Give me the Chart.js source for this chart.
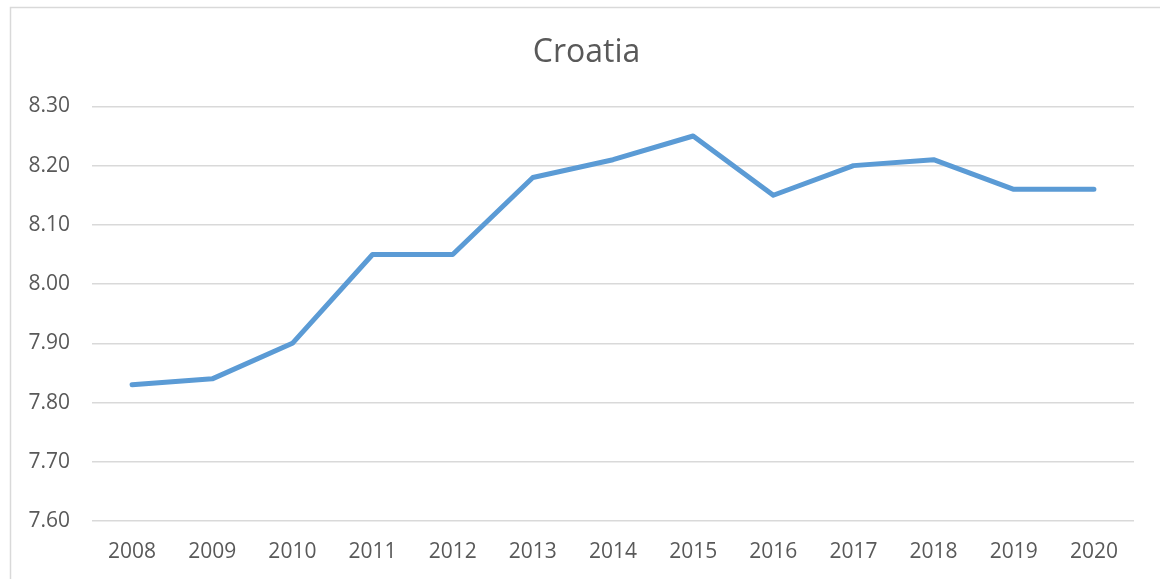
<!DOCTYPE html>
<html>
<head>
<meta charset="utf-8">
<script src="https://cdn.jsdelivr.net/npm/chart.js@4/dist/chart.umd.min.js"></script>
<style>
  html, body { margin: 0; padding: 0; background: #fff; }
  #wrap { position: relative; width: 1160px; height: 579px; }
</style>
</head>
<body>
<div id="wrap"><canvas id="c" width="1160" height="579"></canvas></div>
<script>
const years = ['2008','2009','2010','2011','2012','2013','2014','2015','2016','2017','2018','2019','2020'];
const croatia = [7.83, 7.84, 7.90, 8.05, 8.05, 8.18, 8.21, 8.25, 8.15, 8.20, 8.21, 8.16, 8.16];
const yMin = 7.60, yMax = 8.30, yStep = 0.10;
const chartTitle = 'Croatia';

const borderPlugin = {
  id: 'outerBorder',
  beforeDraw(chart) {
    const ctx = chart.ctx;
    ctx.save();
    ctx.fillStyle = '#ffffff';
    ctx.fillRect(0, 0, chart.width, chart.height);
    ctx.strokeStyle = '#d9d9d9';
    ctx.lineWidth = 1.5;
    ctx.strokeRect(10.5, 7.5, 1300, 700);
    ctx.restore();
  },
  afterDraw(chart) {
    // title centred on the outer chart frame (frame spans x=10..~1163)
    const tb = chart.titleBlock;
    const ctx = chart.ctx;
    const tOpts = chart.options.plugins.title;
    const y = tb.top + tOpts.padding.top + (tOpts.font.size * 1.2) / 2;
    ctx.save();
    ctx.fillStyle = '#595959';
    ctx.font = tOpts.font.size + 'px "Open Sans"';
    ctx.textAlign = 'center';
    ctx.textBaseline = 'middle';
    ctx.fillText(chartTitle, 586.5, y);
    ctx.restore();
  }
};

new Chart(document.getElementById('c'), {
  type: 'line',
  data: {
    labels: years,
    datasets: [{
      label: chartTitle,
      data: croatia,
      borderColor: '#5b9bd5',
      backgroundColor: '#5b9bd5',
      borderWidth: 5,
      pointRadius: 0,
      tension: 0,
      borderCapStyle: 'round',
      borderJoinStyle: 'round'
    }]
  },
  options: {
    responsive: false,
    animation: false,
    layout: { padding: { left: 27, right: 26, top: 14, bottom: 0 } },
    plugins: {
      legend: { display: false },
      tooltip: { enabled: false },
      title: {
        display: true,
        text: chartTitle,
        color: 'rgba(0,0,0,0)',
        font: { family: 'Open Sans', size: 32, weight: 'normal' },
        padding: { top: 20, bottom: 34 }
      }
    },
    scales: {
      x: {
        offset: true,
        grid: { display: false, drawTicks: false },
        border: { display: false },
        afterFit: s => { s.height = 58; },
        ticks: {
          color: '#595959',
          padding: 18,
          font: { family: 'Open Sans', size: 21 },
          maxRotation: 0
        }
      },
      y: {
        min: yMin,
        max: yMax,
        grid: { color: '#d9d9d9', lineWidth: 1.5, drawTicks: false },
        border: { display: false },
        afterFit: s => { s.width = 65; },
        ticks: {
          stepSize: yStep,
          color: '#595959',
          padding: 22,
          font: { family: 'Open Sans', size: 21 },
          callback: v => Number(v).toFixed(2)
        }
      }
    }
  },
  plugins: [borderPlugin]
});
</script>
</body>
</html>
